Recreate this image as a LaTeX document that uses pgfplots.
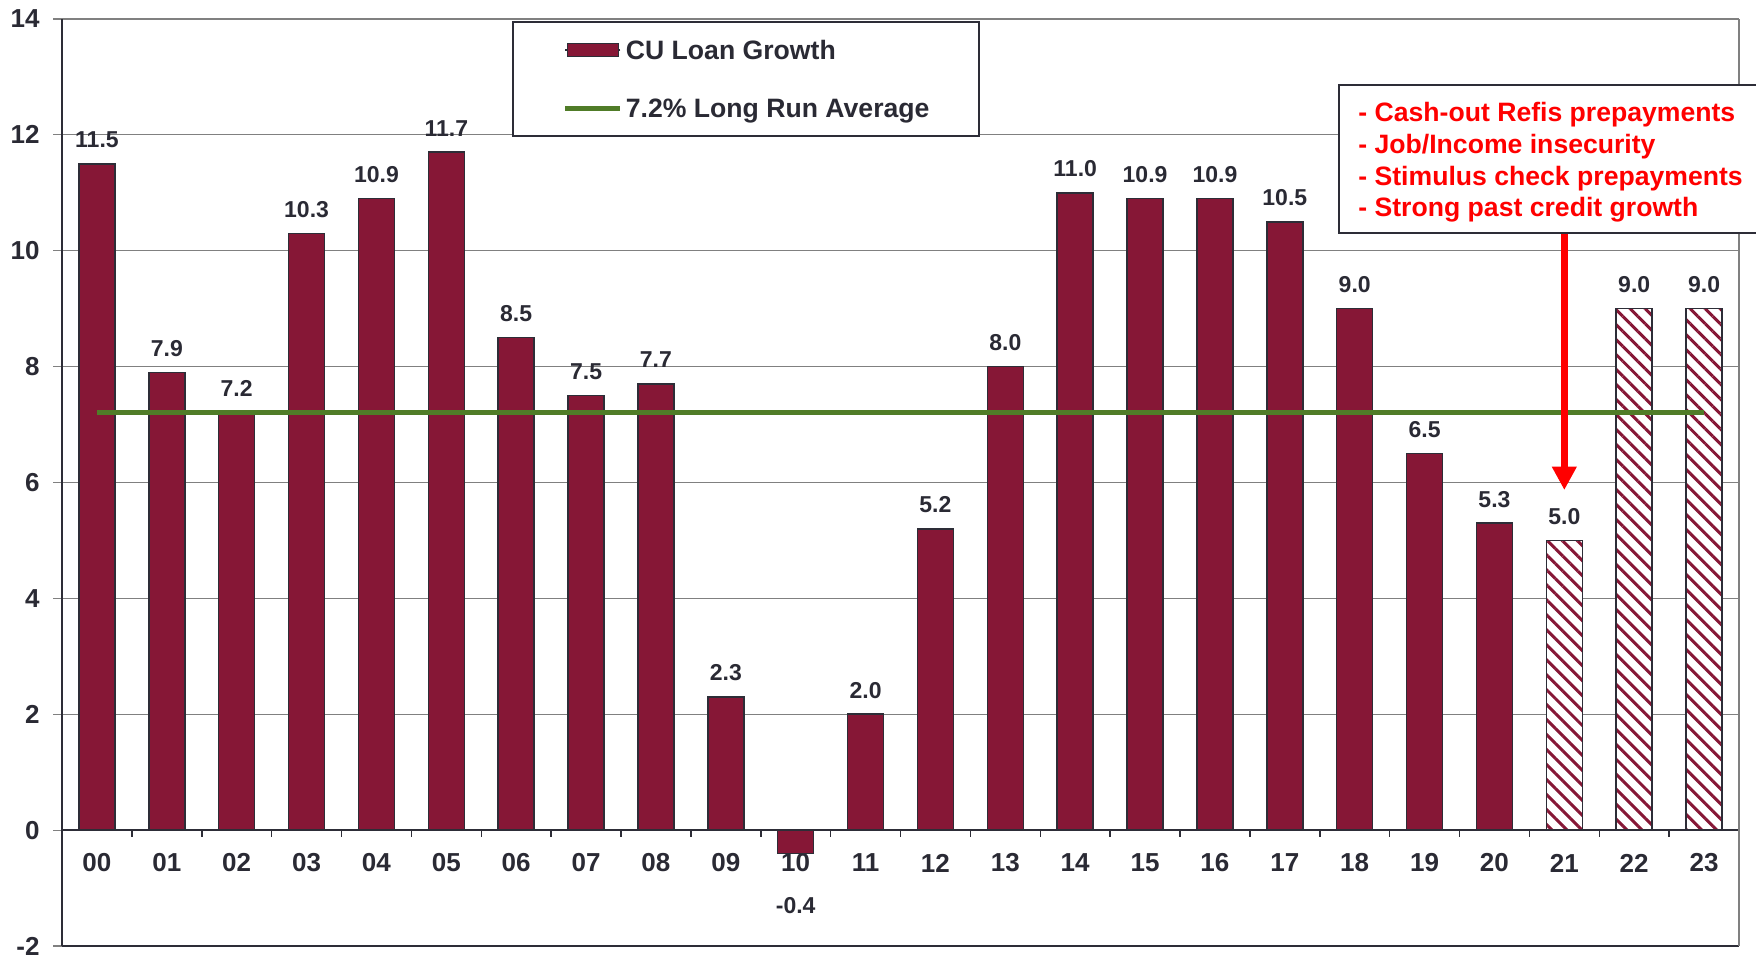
\documentclass[border=0pt]{standalone}
\usepackage{fontspec}
\setmainfont{Liberation Sans}
\usepackage{pgfplots}
\usepackage{pgfplotstable}
\pgfplotsset{compat=1.18}
\usetikzlibrary{patterns.meta,arrows.meta}

\definecolor{loanred}{RGB}{134,23,54}
\definecolor{edgegray}{RGB}{45,45,55}
\definecolor{avggreen}{RGB}{80,124,40}
\definecolor{gridgray}{RGB}{128,128,128}
\definecolor{labelgray}{RGB}{42,42,52}

% annual CU loan growth, %
\pgfplotstableread{
x y
0 11.5
1 7.9
2 7.2
3 10.3
4 10.9
5 11.7
6 8.5
7 7.5
8 7.7
9 2.3
11 2.0
12 5.2
13 8.0
14 11.0
15 10.9
16 10.9
17 10.5
18 9.0
19 6.5
20 5.3
}\actual
\pgfplotstableread{
x y
10 -0.4
}\dip
% forecast years
\pgfplotstableread{
x y
21 5.0
22 9.0
23 9.0
}\forecast
\pgfplotstableread{
x y
0 7.2
23 7.2
}\average

\begin{document}
\begin{tikzpicture}
\useasboundingbox (0,0) rectangle (878pt,478.5pt);
\begin{axis}[
  at={(31pt,5.5pt)}, anchor=south west,
  scale only axis, width=838.5pt, height=463.5pt,
  xmin=-0.5, xmax=23.5, ymin=-2, ymax=14,
  axis x line*=bottom, axis y line*=left,
  axis line style={draw=edgegray, line width=1pt},
  /pgf/number format/assume math mode=true,
  ytick={-2,0,2,4,6,8,10,12,14},
  yticklabels={-2,0,2,4,6,8,10,12,14},
  ymajorgrids, grid style={draw=gridgray, line width=0.6pt},
  y tick style={draw=gridgray, line width=0.6pt},
  ytick align=outside, major tick length=4.5pt,
  xtick={0,...,23},
  xticklabels={00,01,02,03,04,05,06,07,08,09,10,11,12,13,14,15,16,17,18,19,20,21,22,23},
  x tick style={draw=none},
  xticklabel style={anchor=center, yshift=41.5pt},
  yticklabel style={anchor=east, inner sep=0pt, xshift=-6.5pt},
  tick label style={font=\bfseries\fontsize{13}{15}\selectfont, text=labelgray},
  legend style={at={(0.2683,0.9978)}, anchor=north west,
    draw=edgegray, line width=1pt, inner xsep=25pt, inner ysep=7pt,
    row sep=15pt, column sep=1.5pt,
    font=\bfseries\fontsize{13.3}{16}\selectfont, text=labelgray,
    nodes={inner sep=0pt, text height=11.76pt, text depth=2.24pt}},
  legend cell align=left,
  clip=false,
]
\addplot[ybar, bar width=18pt, bar shift=0pt,
  fill=loanred, draw=edgegray, line width=0.75pt,
  nodes near coords={\pgfmathprintnumber[fixed,fixed zerofill,precision=1]{\pgfplotspointmeta}},
  nodes near coords style={anchor=base, yshift=8pt, inner sep=0pt,
    font=\bfseries\fontsize{11.5}{13}\selectfont, text=labelgray},
  legend image code/.code={%
    \path (0pt,0pt) -- (27.5pt,0pt);
    \draw[fill=loanred, draw=edgegray, line width=0.75pt] (1pt,-3.35pt) rectangle (26.5pt,3.35pt);}
] table {\actual};
\addlegendentry{CU Loan Growth}

\addplot[forget plot, ybar, bar width=18pt, bar shift=0pt,
  fill=loanred, draw=edgegray, line width=0.75pt,
  nodes near coords={\pgfmathprintnumber[fixed,fixed zerofill,precision=1]{\pgfplotspointmeta}},
  nodes near coords style={anchor=base, yshift=-30pt, inner sep=0pt,
    font=\bfseries\fontsize{11.5}{13}\selectfont, text=labelgray}
] table {\dip};

% forecast bars: white ground, then diagonal hatching
\addplot[forget plot, ybar, bar width=18pt, bar shift=0pt,
  fill=white, draw=none] table {\forecast};
\addplot[forget plot, ybar, bar width=18pt, bar shift=0pt,
  draw=edgegray, line width=0.75pt,
  pattern={Lines[angle=-45,distance=5.3pt,line width=1.5pt]}, pattern color=loanred,
  nodes near coords={\pgfmathprintnumber[fixed,fixed zerofill,precision=1]{\pgfplotspointmeta}},
  nodes near coords style={anchor=base, yshift=8pt, inner sep=0pt,
    font=\bfseries\fontsize{11.5}{13}\selectfont, text=labelgray}
] table {\forecast};

\addplot[sharp plot, no marks, draw=avggreen, line width=2.5pt,
  legend image code/.code={%
    \draw[avggreen, line width=2.5pt] (0pt,0pt) -- (27.5pt,0pt);}
] table {\average};
\addlegendentry{7.2\% Long Run Average}

% zero line with category separators
\draw[edgegray, line width=1pt] (axis cs:-0.5,0) -- (axis cs:23.5,0);
\pgfplotsinvokeforeach{0.5,1.5,...,22.5}{%
  \draw[edgegray, line width=0.75pt] (axis cs:#1,0) -- ++(0pt,-3.5pt);}
% right frame
\draw[gridgray, line width=0.6pt] (rel axis cs:1,0) -- (rel axis cs:1,1);
% pointer to 2021
\draw[red, line width=3.5pt, -{Triangle[width=11.7pt,length=11.7pt]}]
  (axis cs:21,10.6) -- (axis cs:21,5.87);
\end{axis}

% annotation box
\draw[edgegray, line width=1pt, fill=white] (669.5pt,362pt) rectangle (890pt,436pt);
\begin{scope}[every node/.style={anchor=base west, inner sep=0pt, text=red,
    font=\bfseries\fontsize{13.3}{16}\selectfont}]
\node at (679pt,417.65pt) {- Cash-out Refis prepayments};
\node at (679pt,401.8pt) {- Job/Income insecurity};
\node at (679pt,385.95pt) {- Stimulus check prepayments};
\node at (679pt,370.1pt) {- Strong past credit growth};
\end{scope}
\end{tikzpicture}
\end{document}
